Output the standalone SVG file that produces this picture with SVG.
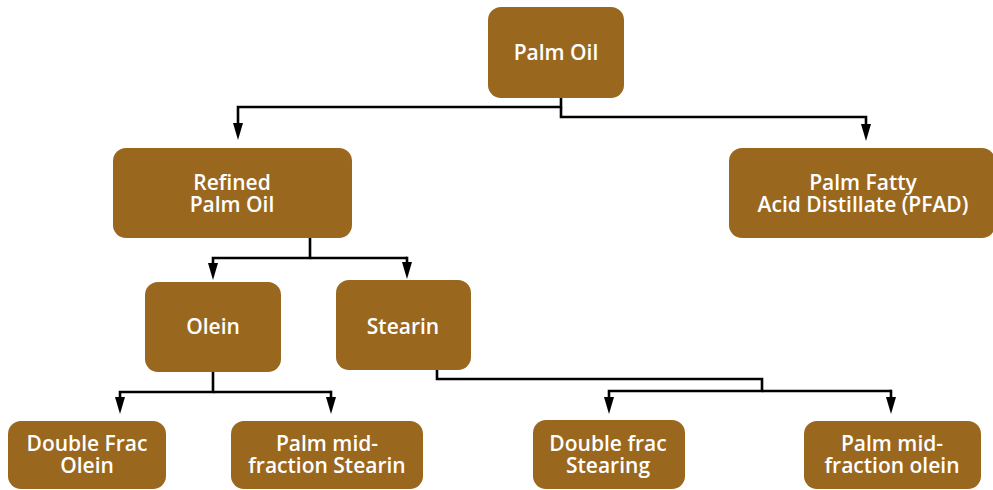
<svg xmlns="http://www.w3.org/2000/svg" width="993" height="490" viewBox="0 0 993 490">
<style>
.n{fill:#9a671f}
.t{font-family:"Open Sans","Noto Sans",sans-serif;font-weight:600;font-size:21px;fill:#fff;text-anchor:middle}
.c{fill:none;stroke:#000;stroke-width:2.6;marker-end:url(#ah)}
.cn{fill:none;stroke:#000;stroke-width:2.6}
</style>
<defs>
<marker id="ah" markerUnits="userSpaceOnUse" markerWidth="18" markerHeight="12" refX="2" refY="5" orient="auto" viewBox="0 0 18 10" overflow="visible">
<path d="M0,0 L17,5 L0,10 z" fill="#000"/>
</marker>
</defs>
<rect width="993" height="490" fill="#fff"/>
<g id="connectors">
<path class="c" d="M561,98 V107 H238 V125"/>
<path class="c" d="M561,107 V117 H866 V126"/>
<path class="c" d="M310,238 V258 H213 V265"/>
<path class="cn" d="M310,258 H407"/>
<path class="c" d="M407,256.7 V264"/>
<path class="c" d="M213,372 V392 H120 V399"/>
<path class="cn" d="M213,392 H331"/>
<path class="c" d="M331,390.7 V399"/>
<path class="c" d="M437,370 V379 H762 V391 H609 V399"/>
<path class="cn" d="M762,391 H891"/>
<path class="c" d="M891,389.7 V399"/>
</g>
<g id="palm-oil"><rect class="n" x="488" y="7" width="136" height="91" rx="13"/><text class="t" x="556" y="60">Palm Oil</text></g>
<g id="refined"><rect class="n" x="113" y="148" width="239" height="90" rx="13"/><text class="t" x="232" y="190">Refined</text><text class="t" x="232" y="212">Palm Oil</text></g>
<g id="pfad"><rect class="n" x="729" y="148" width="266" height="90" rx="13"/><text class="t" x="863" y="190">Palm Fatty</text><text class="t" x="863" y="212">Acid Distillate (PFAD)</text></g>
<g id="olein"><rect class="n" x="145" y="282" width="136" height="90" rx="13"/><text class="t" x="213" y="334">Olein</text></g>
<g id="stearin"><rect class="n" x="336" y="280" width="135" height="90" rx="13"/><text class="t" x="403" y="334">Stearin</text></g>
<g id="dfo"><rect class="n" x="8" y="421" width="158" height="68" rx="13"/><text class="t" x="87" y="451">Double Frac</text><text class="t" x="87" y="473">Olein</text></g>
<g id="pmfs"><rect class="n" x="231" y="421" width="192" height="68" rx="13"/><text class="t" x="327" y="451">Palm mid-</text><text class="t" x="327" y="473">fraction Stearin</text></g>
<g id="dfs"><rect class="n" x="533" y="420" width="152" height="69" rx="13"/><text class="t" x="608" y="451">Double frac</text><text class="t" x="608" y="473">Stearing</text></g>
<g id="pmfo"><rect class="n" x="804" y="421" width="177" height="68" rx="13"/><text class="t" x="892" y="451">Palm mid-</text><text class="t" x="892" y="473">fraction olein</text></g>
</svg>
